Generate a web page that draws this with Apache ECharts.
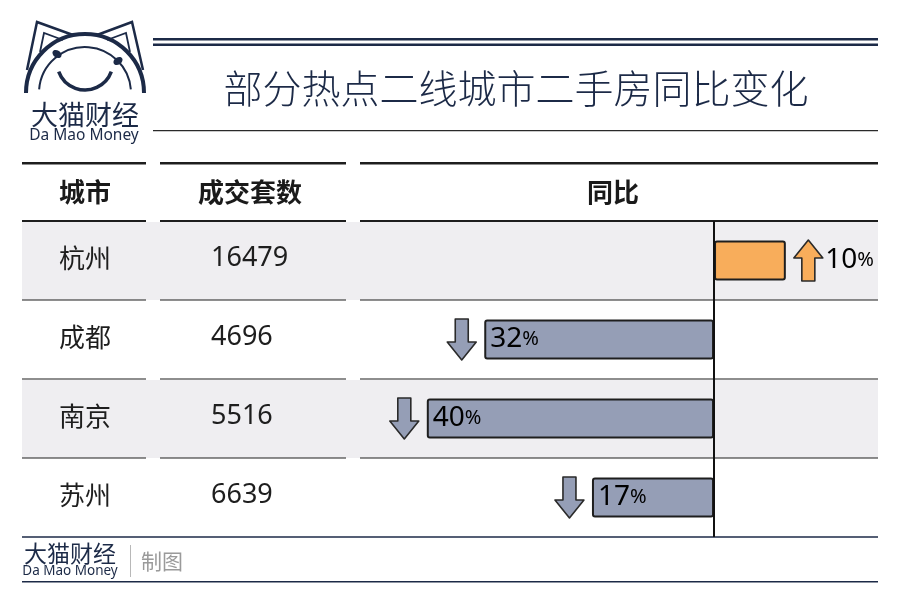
<!DOCTYPE html>
<html><head><meta charset="utf-8">
<script src="https://cdn.jsdelivr.net/npm/echarts@6/dist/echarts.min.js"></script>
<style>html,body{margin:0;padding:0;background:#fff}#c{width:900px;height:604px}</style>
</head><body><div id="c"></div>
<script>
const title = '部分热点二线城市二手房同比变化';
const headers = ['城市', '成交套数', '同比'];
const cities = ['杭州', '成都', '南京', '苏州'];
const deals = [16479, 4696, 5516, 6639];
const yoy = [10, -32, -40, -17];

const NAVY = '#1c2a47';
const LINE = '#1e1e1e';
const UP = '#f8ad5b';
const DOWN = '#959eb6';
const FONT = '"Noto Sans CJK SC", "Noto Sans", sans-serif';
const cols = [[22, 146], [160, 346], [360, 878]];

const chart = echarts.init(document.getElementById('c'), null, {renderer: 'canvas'});

function segLines(y, h) {
  return cols.map(c => ({type: 'rect', shape: {x: c[0], y: y, width: c[1] - c[0], height: h}, style: {fill: LINE}}));
}

const graphics = [
  // logo
  {type: 'arc', shape: {cx: 85, cy: 93, r: 59, startAngle: Math.PI, endAngle: Math.PI * 2, clockwise: true}, style: {stroke: NAVY, lineWidth: 4, fill: null}},
  {type: 'arc', shape: {cx: 85, cy: 93, r: 46, startAngle: Math.PI + 0.08, endAngle: Math.PI * 2 - 0.08, clockwise: true}, style: {stroke: NAVY, lineWidth: 2, fill: null}},
  {type: 'polyline', shape: {points: [[27, 70], [37, 22], [73, 35]]}, style: {stroke: NAVY, lineWidth: 2.5, fill: null}},
  {type: 'polyline', shape: {points: [[40, 52], [44, 33], [63, 40]]}, style: {stroke: NAVY, lineWidth: 1.8, fill: null}},
  {type: 'polyline', shape: {points: [[97, 35], [132, 22], [143, 70]]}, style: {stroke: NAVY, lineWidth: 2.5, fill: null}},
  {type: 'polyline', shape: {points: [[107, 40], [126, 33], [130, 52]]}, style: {stroke: NAVY, lineWidth: 1.8, fill: null}},
  {type: 'ellipse', shape: {cx: 57, cy: 54, rx: 5, ry: 3.5}, rotation: -0.6, originX: 57, originY: 54, style: {fill: NAVY}},
  {type: 'ellipse', shape: {cx: 118, cy: 61, rx: 5, ry: 3.5}, rotation: 0.6, originX: 118, originY: 61, style: {fill: NAVY}},
  {type: 'arc', shape: {cx: 85, cy: 62, r: 28, startAngle: 0.35, endAngle: Math.PI - 0.35, clockwise: true}, style: {stroke: NAVY, lineWidth: 3.5, fill: null}},
  {type: 'text', style: {x: 85, y: 115, text: '大猫财经', font: '27px ' + FONT, fill: NAVY, align: 'center', verticalAlign: 'middle'}},
  {type: 'text', style: {x: 84, y: 136, text: 'Da Mao Money', font: '15.5px "Noto Sans", sans-serif', fill: NAVY, align: 'center', verticalAlign: 'middle'}},
  // title block
  {type: 'rect', shape: {x: 153, y: 38, width: 725, height: 2.5}, style: {fill: NAVY}},
  {type: 'rect', shape: {x: 153, y: 43.5, width: 725, height: 2.5}, style: {fill: NAVY}},
  {type: 'text', style: {x: 516, y: 88, text: title, font: '300 39px ' + FONT, fill: NAVY, align: 'center', verticalAlign: 'middle'}},
  {type: 'rect', shape: {x: 153, y: 130, width: 725, height: 1.2}, style: {fill: '#2a2a2a'}},
  // header
  ...segLines(162, 2.5),
  ...segLines(220, 2.5),
  {type: 'text', style: {x: 85, y: 192, text: headers[0], font: 'bold 26px ' + FONT, fill: '#1a1a1a', align: 'center', verticalAlign: 'middle'}},
  {type: 'text', style: {x: 250, y: 192, text: headers[1], font: 'bold 26px ' + FONT, fill: '#1a1a1a', align: 'center', verticalAlign: 'middle'}},
  {type: 'text', style: {x: 613, y: 192, text: headers[2], font: 'bold 26px ' + FONT, fill: '#1a1a1a', align: 'center', verticalAlign: 'middle'}},
  // footer
  {type: 'rect', shape: {x: 22, y: 581, width: 856, height: 1.5}, style: {fill: NAVY}},
  {type: 'text', style: {x: 70, y: 553, text: '大猫财经', font: '23px ' + FONT, fill: NAVY, align: 'center', verticalAlign: 'middle'}},
  {type: 'text', style: {x: 70, y: 571, text: 'Da Mao Money', font: '13.5px "Noto Sans", sans-serif', fill: NAVY, align: 'center', verticalAlign: 'middle'}},
  {type: 'rect', shape: {x: 130, y: 545, width: 1, height: 32}, style: {fill: '#b8b8b8'}},
  {type: 'text', style: {x: 141, y: 561, text: '制图', font: '21px ' + FONT, fill: '#9a9a9a', align: 'left', verticalAlign: 'middle'}}
];

function arrowPoints(cx, cy, up) {
  const W = 29, H = 41, hh = 18, sw = 13;
  const t = cy - H / 2, b = cy + H / 2;
  if (up) {
    return [[cx, t], [cx + W / 2, t + hh], [cx + sw / 2, t + hh], [cx + sw / 2, b], [cx - sw / 2, b], [cx - sw / 2, t + hh], [cx - W / 2, t + hh]];
  }
  return [[cx, b], [cx + W / 2, b - hh], [cx + sw / 2, b - hh], [cx + sw / 2, t], [cx - sw / 2, t], [cx - sw / 2, b - hh], [cx - W / 2, b - hh]];
}

const rich = {
  n: {fontSize: 28, fontFamily: '"Noto Sans", sans-serif', color: '#1e1e1e'},
  p: {fontSize: 20, fontFamily: '"Noto Sans", sans-serif', color: '#1e1e1e'}
};

const option = {
  backgroundColor: '#fff',
  animation: false,
  grid: {left: 355, top: 221, width: 517, height: 316, containLabel: false},
  xAxis: {type: 'value', min: -50, max: 22, show: false},
  yAxis: {type: 'category', data: cities, inverse: true, axisLine: {show: false}, axisTick: {show: false}, axisLabel: {show: false}},
  graphic: graphics,
  series: [
    {
      type: 'custom', z: 1, clip: false, silent: true,
      data: cities.map((c, i) => [0, i]),
      encode: {x: 0, y: 1},
      renderItem: function (params, api) {
        const idx = api.value(1);
        const cy = api.coord([0, idx])[1];
        const band = api.size([0, 1])[1];
        const top = cy - band / 2, bot = cy + band / 2;
        const children = [];
        if (idx % 2 === 0) {
          children.push({type: 'rect', shape: {x: 22, y: top + 1, width: 856, height: band - 1}, style: {fill: '#efeef1'}});
        }
        if (idx < cities.length - 1) {
          cols.forEach(c => children.push({type: 'rect', shape: {x: c[0], y: bot - 0.6, width: c[1] - c[0], height: 1.2}, style: {fill: LINE}}));
        } else {
          children.push({type: 'rect', shape: {x: 22, y: bot - 0.75, width: 856, height: 1.5}, style: {fill: NAVY}});
        }
        children.push({type: 'text', style: {x: 85, y: cy - 2, text: cities[idx], font: '26px ' + FONT, fill: '#1e1e1e', align: 'center', verticalAlign: 'middle'}});
        children.push({type: 'text', style: {x: 211, y: cy - 2, text: String(deals[idx]), font: '27px "Noto Sans", sans-serif', fill: '#1e1e1e', align: 'left', verticalAlign: 'middle'}});
        return {type: 'group', children: children};
      }
    },
    {
      type: 'bar', z: 3, barWidth: 40,
      data: yoy.map(v => ({value: v, itemStyle: {color: v >= 0 ? UP : DOWN}})),
      itemStyle: {borderColor: LINE, borderWidth: 2, borderRadius: 2},
      markLine: {
        silent: true, symbol: 'none', label: {show: false},
        lineStyle: {color: '#111', width: 2, type: 'solid'},
        data: [{xAxis: 0}]
      }
    },
    {
      type: 'custom', z: 4, clip: false, silent: true,
      data: yoy.map((v, i) => [v, i]),
      encode: {x: 0, y: 1},
      renderItem: function (params, api) {
        const v = api.value(0), idx = api.value(1);
        const end = api.coord([v, idx]);
        const cy = end[1] - 1;
        const up = v >= 0;
        const cx = up ? end[0] + 8 + 14.5 : end[0] - 8 - 14.5;
        const children = [{
          type: 'polygon', shape: {points: arrowPoints(cx, cy + 1, up)},
          style: {fill: up ? UP : DOWN, stroke: '#2a2a2a', lineWidth: 1.6, lineJoin: 'round'}
        }];
        const txt = '{n|' + Math.abs(v) + '}{p|%}';
        children.push({
          type: 'text',
          style: {x: up ? cx + 17 : end[0] + 6, y: cy + 1, text: txt, rich: rich, align: 'left', verticalAlign: 'middle'}
        });
        return {type: 'group', children: children};
      }
    }
  ]
};
chart.setOption(option);
</script>
</body></html>
